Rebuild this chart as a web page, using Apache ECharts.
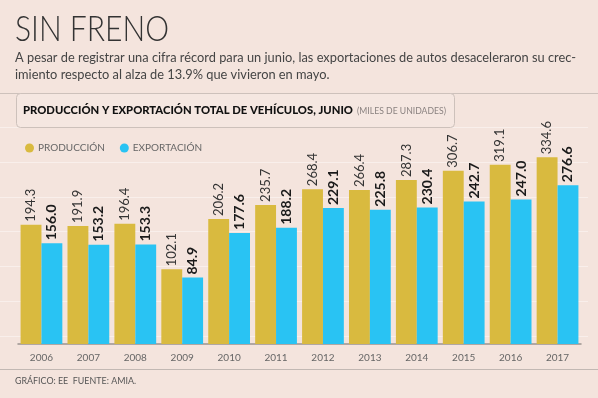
<!DOCTYPE html>
<html>
<head>
<meta charset="utf-8">
<script src="https://cdn.jsdelivr.net/npm/echarts@6/dist/echarts.min.js"></script>
<style>
html,body{margin:0;padding:0;background:#f4e4dd;}
#c{width:598px;height:398px;}
</style>
</head>
<body>
<div id="c"></div>
<script>
// ---- data ----
var years = ['2006','2007','2008','2009','2010','2011','2012','2013','2014','2015','2016','2017'];
var produccion = [194.3,191.9,196.4,102.1,206.2,235.7,268.4,266.4,287.3,306.7,319.1,334.6];
var exportacion = [156.0,153.2,153.3,84.9,177.6,188.2,229.1,225.8,230.4,242.7,247.0,276.6];
var seriesNames = ['PRODUCCIÓN','EXPORTACIÓN'];

var titleText = 'SIN FRENO';
var subLine1 = 'A pesar de registrar una cifra récord para un junio, las exportaciones de autos desaceleraron su crec-';
var subLine2 = 'imiento respecto al alza de 13.9% que vivieron en mayo.';
var boxTitle = 'PRODUCCIÓN Y EXPORTACIÓN TOTAL DE VEHÍCULOS, JUNIO';
var boxUnit = '(MILES DE UNIDADES)';
var footer = 'GRÁFICO: EE  FUENTE: AMIA.';

// ---- layout helpers ----
var mctx = document.createElement('canvas').getContext('2d');
function fitScale(text, weight, size, family, target) {
  mctx.font = weight + ' ' + size + 'px ' + family;
  return target / mctx.measureText(text).width;
}
var FAM = 'Lato';
var FAM_LIGHT = '"Lato Light", Lato';

function txt(text, x, y, size, weight, color, targetW, fam) {
  fam = fam || FAM;
  return {
    type: 'text', x: x, y: y,
    scaleX: targetW ? fitScale(text, weight, size, fam, targetW) : 1,
    style: {text: text, fontSize: size, fontFamily: fam, fontWeight: weight, fill: color, verticalAlign: 'middle'},
    z: 10
  };
}
var sub2W = (function () { mctx.font = 'normal 13px ' + FAM; return 561 * mctx.measureText(subLine2).width / mctx.measureText(subLine1).width; })();

var chart = echarts.init(document.getElementById('c'), null, {renderer: 'canvas'});
var bg = '#f4e4dd';
var option = {
  backgroundColor: bg,
  animation: false,
  graphic: [
    txt(titleText, 15, 29, 36, 300, '#333333', 154, FAM_LIGHT),
    txt(subLine1, 15, 58, 13, 'normal', '#444444', 561),
    txt(subLine2, 15, 75, 13, 'normal', '#444444', sub2W),
    {type: 'line', shape: {x1: 0, y1: 93.5, x2: 598, y2: 93.5}, style: {stroke: '#cdc1bb', lineWidth: 1}, z: 5},
    {type: 'rect', shape: {x: 16.5, y: 93.5, width: 438, height: 34, r: 4}, style: {fill: '#f5e7e1', stroke: '#cdc1bb', lineWidth: 1}, z: 6},
    txt(boxTitle, 23, 111, 10.5, 900, '#111111', 330),
    txt(boxUnit, 357, 111, 8.5, 'normal', '#8a8280', 89),
    {type: 'line', shape: {x1: 0, y1: 369.5, x2: 598, y2: 369.5}, style: {stroke: '#c2b8b3', lineWidth: 1}, z: 5},
    txt(footer, 15, 381, 10, 'normal', '#555555', 121)
  ],
  legend: {
    data: seriesNames,
    left: 20, top: 138,
    icon: 'circle', itemWidth: 9, itemHeight: 9, itemGap: 15,
    textStyle: {color: '#666666', fontSize: 10, fontFamily: FAM, padding: [0, 0, 0, -1]}
  },
  grid: [
    {left: 18, right: 17, top: 127.2, bottom: 54},
    {left: 0, right: 10, top: 127.2, bottom: 62}
  ],
  xAxis: [
    {
      type: 'category', data: years, gridIndex: 0,
      axisLine: {onZero: false, lineStyle: {color: '#9a9390', width: 1.5}},
      axisTick: {show: false},
      axisLabel: {color: '#666666', fontSize: 10, fontFamily: FAM, margin: 9}
    },
    {type: 'value', gridIndex: 1, show: false, min: 0, max: 1}
  ],
  yAxis: [
    {type: 'value', gridIndex: 0, min: -53, max: 397, startValue: -53, show: false, splitLine: {show: false}},
    {
      type: 'value', gridIndex: 1, min: 0, max: 6, interval: 1,
      axisLine: {show: false}, axisTick: {show: false}, axisLabel: {show: false},
      splitLine: {show: true, lineStyle: {color: '#f9efeb', width: 1}}
    }
  ],
  series: [
    {
      name: seriesNames[0], type: 'bar', data: produccion,
      xAxisIndex: 0, yAxisIndex: 0,
      barGap: '0%', barCategoryGap: '11%',
      itemStyle: {color: '#d9ba3f'},
      label: {
        show: true, position: 'top', rotate: 90, align: 'left', verticalAlign: 'middle', distance: 3,
        color: '#333333', fontSize: 13, fontFamily: FAM, fontWeight: 'normal',
        formatter: function (p) { return p.value.toFixed(1); }
      }
    },
    {
      name: seriesNames[1], type: 'bar', data: exportacion,
      xAxisIndex: 0, yAxisIndex: 0,
      barGap: '0%', barCategoryGap: '11%',
      itemStyle: {color: '#29c3f3'},
      label: {
        show: true, position: 'top', rotate: 90, align: 'left', verticalAlign: 'middle', distance: 3,
        color: '#1a1a1a', fontSize: 14, fontFamily: FAM, fontWeight: 'bold',
        formatter: function (p) { return p.value.toFixed(1); }
      }
    }
  ]
};
chart.setOption(option);
</script>
</body>
</html>
